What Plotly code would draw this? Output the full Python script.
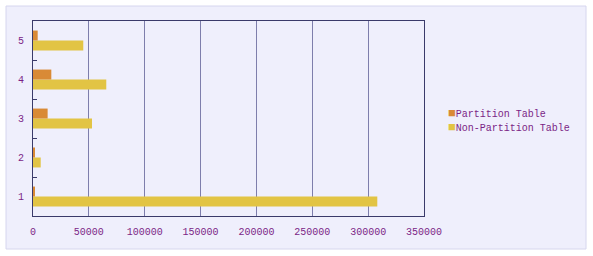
import plotly.graph_objects as go

categories = ["1", "2", "3", "4", "5"]
partition = [1800, 1200, 13100, 16400, 4200]
non_partition = [308200, 6900, 52800, 65600, 45000]
x_ticks = [0, 50000, 100000, 150000, 200000, 250000, 300000, 350000]
series_names = ["Partition Table", "Non-Partition Table"]
colors = ["#d98a36", "#e2c444"]

W, H = 593, 256
L, R, T, B = 33, 169, 21, 40
pw, ph = W - L - R, H - T - B

text_color = "#7b1f86"
font = dict(family="Liberation Mono, DejaVu Sans Mono, monospace", size=10, color=text_color)

fig = go.Figure()
# Non-partition first so it sits below partition within each group
fig.add_trace(go.Bar(y=categories, x=non_partition, orientation="h", name=series_names[1],
                     marker=dict(color=colors[1], line=dict(width=0)), showlegend=False))
fig.add_trace(go.Bar(y=categories, x=partition, orientation="h", name=series_names[0],
                     marker=dict(color=colors[0], line=dict(width=0)), showlegend=False))

def px_x(p):
    return (p - L) / pw

def px_y(p):
    return (H - B - p) / ph

shapes = [dict(type="rect", xref="paper", yref="paper", layer="below",
               x0=px_x(6), x1=px_x(586), y0=px_y(249), y1=px_y(6),
               fillcolor="#efeffc", line=dict(color="#d6d6ee", width=1))]

annotations = []
for i, (name, c) in enumerate(zip(series_names, colors)):
    annotations.append(dict(
        xref="paper", yref="paper", x=px_x(446), y=px_y(113 + 14 * i),
        xanchor="left", yanchor="middle", showarrow=False,
        text=f"<span style='color:{c};font-size:13px'>■</span>{name}",
        font=dict(family="Liberation Mono, DejaVu Sans Mono, monospace", size=10, color=text_color)))

fig.update_layout(
    width=W, height=H,
    margin=dict(l=L, r=R, t=T, b=B, pad=0),
    paper_bgcolor="white", plot_bgcolor="#f3f3fc",
    barmode="group", bargap=0.49, bargroupgap=0,
    font=font, shapes=shapes, annotations=annotations,
    xaxis=dict(range=[0, 350000], tickvals=x_ticks, ticktext=[str(v) for v in x_ticks],
               showgrid=True, gridcolor="#7e7eac", gridwidth=1,
               showline=True, linecolor="#3a3a6a", linewidth=1, mirror=True,
               ticks="", zeroline=False, ticklabelstandoff=6, tickfont=font),
    yaxis=dict(type="category", categoryorder="array", categoryarray=categories,
               showgrid=False, showline=True, linecolor="#3a3a6a", linewidth=1, mirror=True,
               ticks="inside", tickson="boundaries", ticklen=4, tickcolor="#3a3a6a",
               ticklabelstandoff=6, tickfont=font, zeroline=False),
)

fig.write_html("out.html")
